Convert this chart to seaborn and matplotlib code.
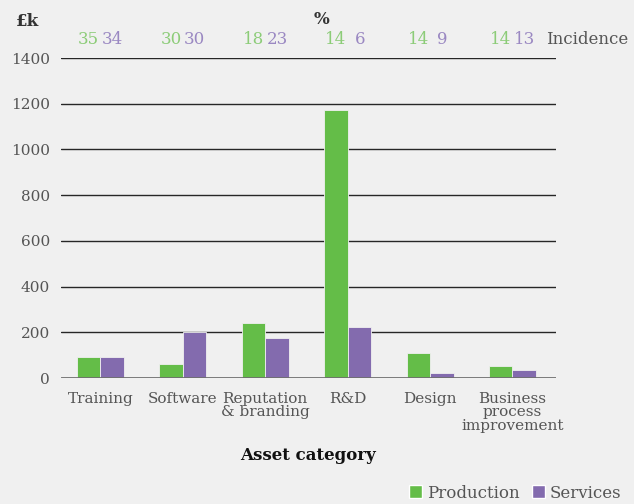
import matplotlib
matplotlib.use("Agg")
import matplotlib.pyplot as plt
import matplotlib.transforms as mtransforms
from matplotlib.patches import Patch
import seaborn as sns
import pandas as pd

categories = ["Training", "Software", "Reputation\n& branding", "R&D", "Design",
              "Business\nprocess\nimprovement"]
production = [90, 62, 240, 1172, 110, 52]
services = [90, 200, 175, 222, 24, 37]
incidence_production = [35, 30, 18, 14, 14, 14]
incidence_services = [34, 30, 23, 6, 9, 13]
y_ticks = [0, 200, 400, 600, 800, 1000, 1200, 1400]

GREEN = "#64bd48"
PURPLE = "#836bae"
GREEN_T = "#8ccc78"
PURPLE_T = "#9a88c2"
BG = "#f0f0f0"
TXT = "#555555"

df = pd.DataFrame({
    "category": categories * 2,
    "value": production + services,
    "sector": ["Production"] * len(categories) + ["Services"] * len(categories),
})

sns.set_theme(style="white")
plt.rcParams["font.family"] = ["DejaVu Serif"]

fig = plt.figure(figsize=(6.34, 5.04), dpi=100, facecolor=BG)
ax = fig.add_axes([61 / 634, (504 - 378) / 504, (556 - 61) / 634, 320 / 504])
ax.set_facecolor(BG)

sns.barplot(data=df, x="category", y="value", hue="sector",
            palette=[GREEN, PURPLE], saturation=1, width=0.57, ax=ax,
            edgecolor=BG, linewidth=0.6, legend=False, zorder=3)

ax.set_xlim(-0.479, 5.528)
ax.set_ylim(0, 1400)
ax.set_yticks(y_ticks)
ax.set_yticklabels([str(v) for v in y_ticks], fontsize=11, color=TXT)
ax.set_xticks(range(len(categories)))
ax.set_xticklabels(categories, fontsize=11, color=TXT, linespacing=0.95)
ax.tick_params(axis="y", length=0, pad=8)
ax.tick_params(axis="x", length=0, pad=10)
for s in ax.spines.values():
    s.set_visible(False)

for v in y_ticks[1:]:
    ax.axhline(v, color="#262626", lw=1.0, zorder=1)
ax.axhline(0, color="#6f6f6f", lw=2, zorder=4)

ax.set_xlabel("Asset category", fontsize=12, fontweight="bold", color="#111111",
              labelpad=10)
ax.set_ylabel("")

trans = mtransforms.blended_transform_factory(ax.transData, fig.transFigure)
off = 0.145
for i in range(len(categories)):
    ax.text(i - off, 1 - 40 / 504, str(incidence_production[i]), transform=trans,
            ha="center", va="center", fontsize=12, color=GREEN_T)
    ax.text(i + off, 1 - 40 / 504, str(incidence_services[i]), transform=trans,
            ha="center", va="center", fontsize=12, color=PURPLE_T)

fig.text(546 / 634, 1 - 40 / 504, "Incidence", ha="left", va="center",
         fontsize=12, color=TXT)
fig.text(322 / 634, 1 - 20 / 504, "%", ha="center", va="center",
         fontsize=12, fontweight="bold", color="#333333")
fig.text(16 / 634, 1 - 22 / 504, "£k", ha="left", va="center",
         fontsize=12, fontweight="bold", color="#333333")

handles = [Patch(facecolor=GREEN, label="Production"),
           Patch(facecolor=PURPLE, label="Services")]
fig.legend(handles=handles, loc="center right", bbox_to_anchor=(630 / 634, 1 - 493 / 504),
           ncol=2, frameon=False, fontsize=12, handlelength=0.8, handleheight=0.8,
           handletextpad=0.3, columnspacing=0.7, labelcolor=TXT, borderpad=0)

fig.savefig("out.png", dpi=100, facecolor=BG)
